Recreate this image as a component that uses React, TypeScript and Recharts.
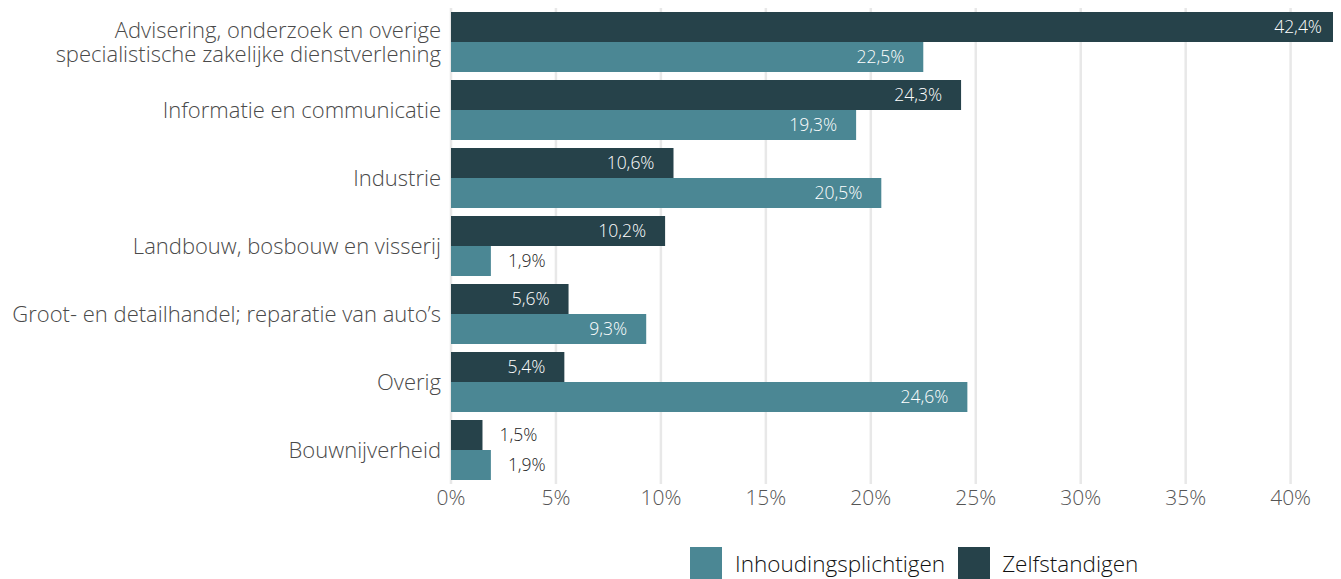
import React from 'react';
import { BarChart, Bar, XAxis, YAxis, CartesianGrid, Legend, LabelList } from 'recharts';

const categories = [
  'Advisering, onderzoek en overige\nspecialistische zakelijke dienstverlening',
  'Informatie en communicatie',
  'Industrie',
  'Landbouw, bosbouw en visserij',
  'Groot- en detailhandel; reparatie van auto’s',
  'Overig',
  'Bouwnijverheid',
];
const zelfstandigen = [42.4, 24.3, 10.6, 10.2, 5.6, 5.4, 1.5];
const inhoudingsplichtigen = [22.5, 19.3, 20.5, 1.9, 9.3, 24.6, 1.9];
const xTicks = [0, 5, 10, 15, 20, 25, 30, 35, 40];

const DARK = '#26424a';
const TEAL = '#4b8794';
const FONT = '"Open Sans", Lato, sans-serif';

const data = categories.map((c, i) => ({
  cat: c,
  zelf: zelfstandigen[i],
  inh: inhoudingsplichtigen[i],
}));

const fmt = (v: number) => v.toFixed(1).replace('.', ',') + '%';

const YTick = (props: any) => {
  const { x, y, payload } = props;
  const lines = String(payload.value).split('\n');
  const lh = 24;
  const start = y - ((lines.length - 1) * lh) / 2;
  return (
    <text x={x} y={start} textAnchor="end" fill="#4a4a4a" fontSize={22} fontWeight={300} fontFamily={FONT}>
      {lines.map((l, i) => (
        <tspan key={i} x={x} y={start + i * lh} dy="0.35em">{l}</tspan>
      ))}
    </text>
  );
};

const XTick = (props: any) => {
  const { x, y, payload } = props;
  return (
    <text x={x} y={y} textAnchor="middle" fill="#555" fontSize={21} fontWeight={300} fontFamily={FONT} dy="0.35em">
      {payload.value + '%'}
    </text>
  );
};

const BarLabel = (props: any) => {
  const { x, y, width, height, value } = props;
  const inside = value >= 3;
  return (
    <text
      x={inside ? x + width - 19 : x + width + 17}
      y={y + height / 2}
      dy="0.36em"
      textAnchor={inside ? 'end' : 'start'}
      fill={inside ? '#fff' : '#222'}
      fontSize={17.5}
      fontWeight={300}
      fontFamily={FONT}
    >
      {fmt(value)}
    </text>
  );
};

const LegendContent = () => (
  <div style={{ display: 'flex', alignItems: 'center', marginLeft: 682, marginTop: 28, fontFamily: FONT, fontWeight: 300, fontSize: 22.5, color: '#111' }}>
    <span style={{ width: 32, height: 32, background: TEAL, display: 'inline-block' }} />
    <span style={{ marginLeft: 13, marginRight: 13 }}>Inhoudingsplichtigen</span>
    <span style={{ width: 32, height: 32, background: DARK, display: 'inline-block' }} />
    <span style={{ marginLeft: 12 }}>Zelfstandigen</span>
  </div>
);

export default function App() {
  return (
    <div style={{ width: 1333, height: 571 }}>
      <BarChart
        width={1333}
        height={571}
        data={data}
        layout="vertical"
        margin={{ top: 0, right: 0, bottom: 0, left: 0 }}
        barCategoryGap={4}
        barGap={0}
      >
        <CartesianGrid horizontal={false} vertical={true} stroke="#e8e8e8" strokeWidth={2.5} />
        <XAxis
          type="number"
          domain={[0, 42.4]}
          ticks={xTicks}
          axisLine={false}
          tickLine={false}
          tickSize={0}
          tickMargin={14}
          height={35}
          tick={<XTick />}
          allowDataOverflow
        />
        <YAxis
          type="category"
          dataKey="cat"
          width={443}
          axisLine={false}
          tickLine={false}
          tickSize={0}
          tickMargin={10}
          tick={<YTick />}
          interval={0}
        />
        <Legend verticalAlign="bottom" height={60} content={<LegendContent />} />
        <Bar dataKey="zelf" name="Zelfstandigen" fill={DARK} barSize={30} isAnimationActive={false}>
          <LabelList dataKey="zelf" content={<BarLabel />} />
        </Bar>
        <Bar dataKey="inh" name="Inhoudingsplichtigen" fill={TEAL} barSize={30} isAnimationActive={false}>
          <LabelList dataKey="inh" content={<BarLabel />} />
        </Bar>
      </BarChart>
    </div>
  );
}
